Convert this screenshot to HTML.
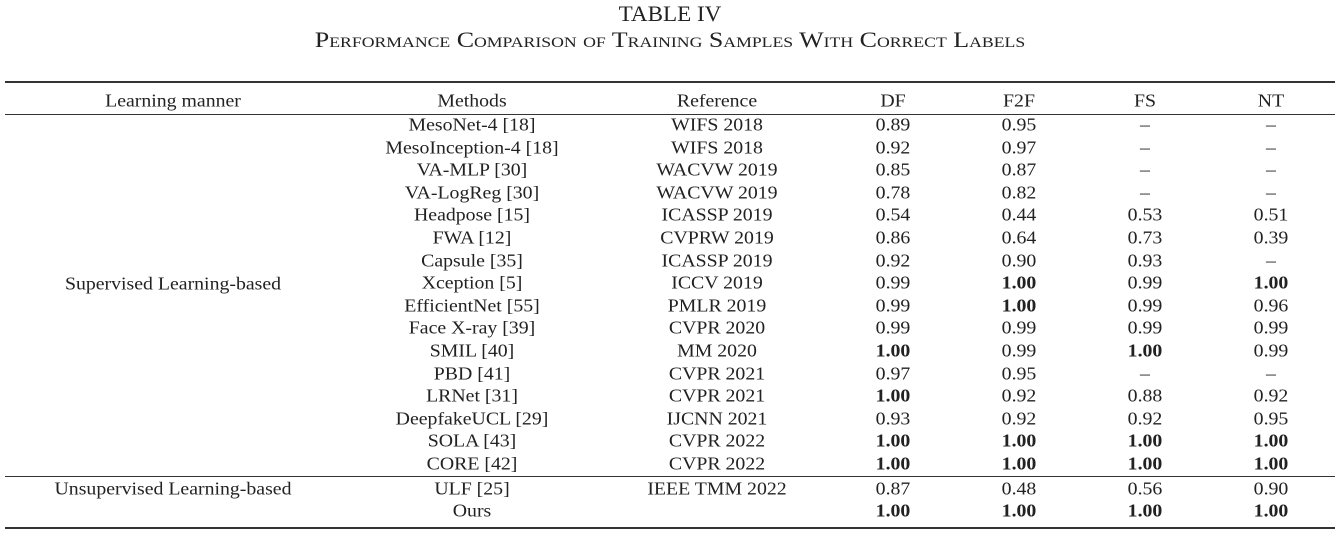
<!DOCTYPE html>
<html><head><meta charset="utf-8"><style>
body{margin:0;width:1340px;height:538px;background:#fff;font-family:"Liberation Serif",serif;color:#222;position:relative;overflow:hidden}
.t{position:absolute;transform:translate(-50%,-50%) scaleX(1.1);white-space:nowrap;font-size:18px}
.l{position:absolute;left:5px;width:1330px;background:#333}
b{font-weight:bold}
</style></head><body>
<div class="t" style="left:670px;top:14px;font-size:22px;transform:translate(-50%,-50%) scaleX(1.05)">TABLE IV</div>
<div class="t" style="left:670px;top:40px;font-size:22px;font-variant:small-caps;transform:translate(-50%,-50%) scaleX(1.18)">Performance Comparison of Training Samples With Correct Labels</div>
<div class="l" style="top:81px;height:2px"></div>
<div class="l" style="top:114px;height:1px"></div>
<div class="l" style="top:476px;height:1px"></div>
<div class="l" style="top:527px;height:2px"></div>
<script>
const X=[173,472,717,893,1019,1145,1271];
function put(x,y,s){const d=document.createElement('div');d.className='t';d.style.left=x+'px';d.style.top=y+'px';d.innerHTML=s;document.body.appendChild(d);}
["Learning manner","Methods","Reference","DF","F2F","FS","NT"].forEach((s,i)=>put(X[i],101,s));
const B=s=>'<b>'+s+'</b>';const D='–';
const R=[
["MesoNet-4 [18]","WIFS 2018","0.89","0.95",D,D],
["MesoInception-4 [18]","WIFS 2018","0.92","0.97",D,D],
["VA-MLP [30]","WACVW 2019","0.85","0.87",D,D],
["VA-LogReg [30]","WACVW 2019","0.78","0.82",D,D],
["Headpose [15]","ICASSP 2019","0.54","0.44","0.53","0.51"],
["FWA [12]","CVPRW 2019","0.86","0.64","0.73","0.39"],
["Capsule [35]","ICASSP 2019","0.92","0.90","0.93",D],
["Xception [5]","ICCV 2019","0.99",B("1.00"),"0.99",B("1.00")],
["EfficientNet [55]","PMLR 2019","0.99",B("1.00"),"0.99","0.96"],
["Face X-ray [39]","CVPR 2020","0.99","0.99","0.99","0.99"],
["SMIL [40]","MM 2020",B("1.00"),"0.99",B("1.00"),"0.99"],
["PBD [41]","CVPR 2021","0.97","0.95",D,D],
["LRNet [31]","CVPR 2021",B("1.00"),"0.92","0.88","0.92"],
["DeepfakeUCL [29]","IJCNN 2021","0.93","0.92","0.92","0.95"],
["SOLA [43]","CVPR 2022",B("1.00"),B("1.00"),B("1.00"),B("1.00")],
["CORE [42]","CVPR 2022",B("1.00"),B("1.00"),B("1.00"),B("1.00")]];
R.forEach((r,i)=>{const y=125+i*22.6;r.forEach((s,j)=>put(X[j+1],y,s));});
put(X[0],284,"Supervised Learning-based");
put(X[0],489,"Unsupervised Learning-based");
["ULF [25]","IEEE TMM 2022","0.87","0.48","0.56","0.90"].forEach((s,j)=>put(X[j+1],489,s));
["Ours","",B("1.00"),B("1.00"),B("1.00"),B("1.00")].forEach((s,j)=>put(X[j+1],511,s));
</script>
</body></html>
